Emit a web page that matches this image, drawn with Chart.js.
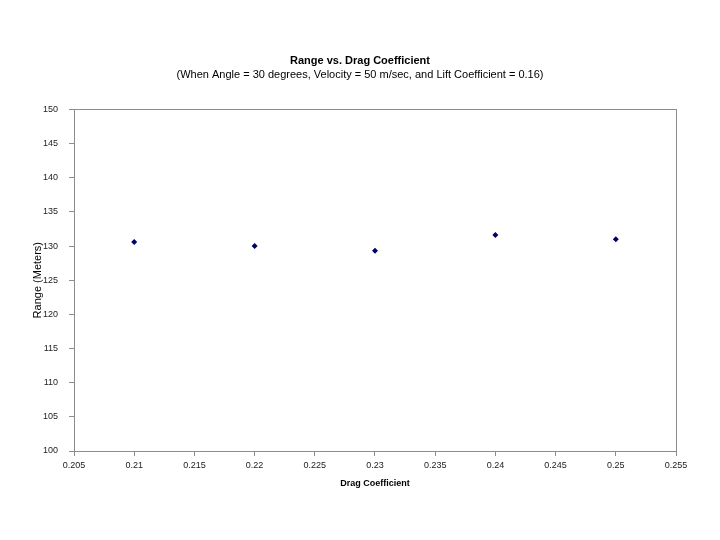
<!DOCTYPE html>
<html>
<head>
<meta charset="utf-8">
<script src="https://cdn.jsdelivr.net/npm/chart.js@4"></script>
<style>
  html, body { margin: 0; padding: 0; background: #fff; }
  #wrap { width: 720px; height: 540px; }
</style>
</head>
<body>
<div id="wrap"><canvas id="c" width="720" height="540"></canvas></div>
<script>
// Range vs. drag coefficient, one scatter series.
const dragCoef = [0.21, 0.22, 0.23, 0.24, 0.25];
const rangeM   = [130.6, 130.0, 129.3, 131.6, 131.0];

const TITLE    = "Range vs. Drag Coefficient";
const SUBTITLE = "(When Angle = 30 degrees, Velocity = 50 m/sec, and Lift Coefficient = 0.16)";
const X_LABEL  = "Drag Coefficient";
const Y_LABEL  = "Range (Meters)";

const AXIS_GREY = "#8c8c8c";
const FONT = "'Liberation Sans', Arial, sans-serif";

// plot-area frame (top and right edges too)
const frame = {
  id: "frame",
  afterDraw(chart) {
    const { ctx, chartArea: a } = chart;
    ctx.save();
    ctx.strokeStyle = AXIS_GREY;
    ctx.lineWidth = 1;
    ctx.strokeRect(Math.round(a.left) + 0.5, Math.round(a.top) + 0.5,
                   Math.round(a.right - a.left), Math.round(a.bottom - a.top));
    ctx.restore();
  },
};

new Chart(document.getElementById("c"), {
  type: "scatter",
  data: {
    datasets: [{
      data: dragCoef.map((x, i) => ({ x, y: rangeM[i] })),
      pointStyle: "rectRot",
      radius: 3,
      backgroundColor: "#000066",
      borderColor: "#000066",
      borderWidth: 0,
    }],
  },
  options: {
    responsive: false,
    animation: false,
    layout: { padding: 0 },
    plugins: {
      legend: { display: false },
      tooltip: { enabled: false },
      title: {
        display: true, text: TITLE, color: "#000",
        font: { family: FONT, size: 11, weight: "bold" },
        padding: { top: 54, bottom: 1 },
      },
      subtitle: {
        display: true, text: SUBTITLE, color: "#000",
        font: { family: FONT, size: 11 },
        padding: { top: 0, bottom: 28 },
      },
    },
    scales: {
      x: {
        type: "linear", min: 0.205, max: 0.255,
        afterFit: s => { s.height = 89; },
        ticks: {
          stepSize: 0.005, color: "#222", padding: 4,
          font: { family: FONT, size: 9 },
          maxRotation: 0,
          callback: v => String(+v.toFixed(3)),
        },
        grid: { drawOnChartArea: false, drawTicks: true, tickLength: 5, color: AXIS_GREY },
        border: { color: AXIS_GREY },
        title: {
          display: true, text: X_LABEL, color: "#000",
          font: { family: FONT, size: 9, weight: "bold" },
          padding: { top: 0, bottom: 51 },
        },
      },
      y: {
        min: 100, max: 150,
        afterFit: s => { s.width = 74; },
        ticks: {
          stepSize: 5, color: "#222", padding: 11,
          font: { family: FONT, size: 9 },
        },
        grid: { drawOnChartArea: false, drawTicks: true, tickLength: 5, color: AXIS_GREY },
        border: { color: AXIS_GREY },
        title: {
          display: true, text: Y_LABEL, color: "#000",
          font: { family: FONT, size: 11 },
          padding: { top: 31, bottom: 0 },
        },
      },
      // empty right-hand strip so the titles centre on the whole page
      yPad: {
        position: "right",
        afterFit: s => { s.width = 44; },
        ticks: { display: false },
        grid: { display: false },
        border: { display: false },
      },
    },
  },
  plugins: [frame],
});
</script>
</body>
</html>
